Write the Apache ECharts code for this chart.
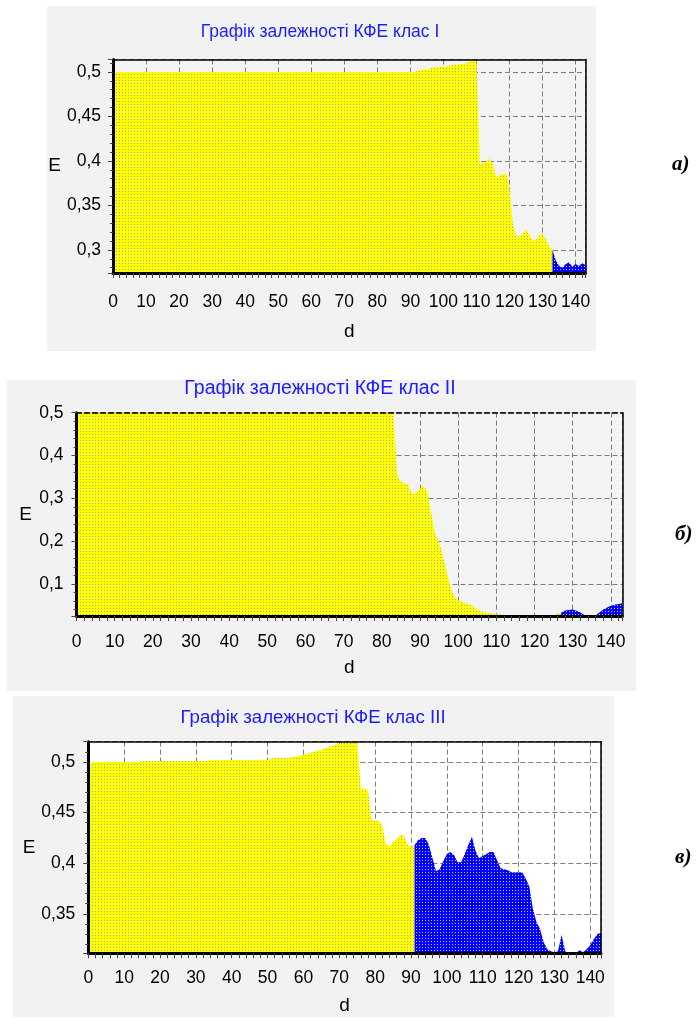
<!DOCTYPE html>
<html><head><meta charset="utf-8">
<script src="https://cdn.jsdelivr.net/npm/echarts@6.0.0/dist/echarts.min.js"></script>
<style>html,body{margin:0;padding:0;background:#fff;}#chart{width:697px;height:1019px;}</style>
</head><body><div id="chart"></div>
<script>
// ---------------- data ----------------
const TITLES = ['Графік залежності КФЕ клас I', 'Графік залежності КФЕ клас II', 'Графік залежності КФЕ клас III'];
const PANEL_TAGS = ['а)', 'б)', 'в)'];
const X_NAME = 'd';
const Y_NAME = 'E';
const X_TICKS = [0, 10, 20, 30, 40, 50, 60, 70, 80, 90, 100, 110, 120, 130, 140];
const X_MAX = 143;
const Y_MIN = [0.274, 0.025, 0.311];
const Y_MAX = [0.514, 0.5, 0.52];
const Y_STEP = [0.05, 0.1, 0.05];
// E value at d = 0,1,2,...,143
const E_I = [
  0.5,0.5,0.5,0.5,0.5,0.5,0.5,0.5,0.5,0.5,
  0.5,0.5,0.5,0.5,0.5,0.5,0.5,0.5,0.5,0.5,
  0.5,0.5,0.5,0.5,0.5,0.5,0.5,0.5,0.5,0.5,
  0.5,0.5,0.5,0.5,0.5,0.5,0.5,0.5,0.5,0.5,
  0.5,0.5,0.5,0.5,0.5,0.5,0.5,0.5,0.5,0.5,
  0.5,0.5,0.5,0.5,0.5,0.5,0.5,0.5,0.5,0.5,
  0.5,0.5,0.5,0.5,0.5,0.5,0.5,0.5,0.5,0.5,
  0.5,0.5,0.5,0.5,0.5,0.5,0.5,0.5,0.5,0.5,
  0.5,0.5,0.5,0.5,0.5,0.5,0.5,0.5,0.5,0.5,
  0.5,0.5,0.501,0.502,0.503,0.503,0.504,0.505,0.505,0.505,
  0.506,0.506,0.507,0.508,0.508,0.509,0.509,0.51,0.512,0.513,
  0.513,0.396,0.398,0.399,0.403,0.395,0.381,0.384,0.385,0.386,
  0.37,0.33,0.316,0.315,0.318,0.323,0.317,0.31,0.311,0.316,
  0.319,0.312,0.304,0.3,0.288,0.282,0.28,0.284,0.286,0.281,
  0.284,0.282,0.285,0.283
];
const E_II = [
  0.5,0.5,0.5,0.5,0.5,0.5,0.5,0.5,0.5,0.5,
  0.5,0.5,0.5,0.5,0.5,0.5,0.5,0.5,0.5,0.5,
  0.5,0.5,0.5,0.5,0.5,0.5,0.5,0.5,0.5,0.5,
  0.5,0.5,0.5,0.5,0.5,0.5,0.5,0.5,0.5,0.5,
  0.5,0.5,0.5,0.5,0.5,0.5,0.5,0.5,0.5,0.5,
  0.5,0.5,0.5,0.5,0.5,0.5,0.5,0.5,0.5,0.5,
  0.5,0.5,0.5,0.5,0.5,0.5,0.5,0.5,0.5,0.5,
  0.5,0.5,0.5,0.5,0.5,0.5,0.5,0.5,0.5,0.5,
  0.5,0.5,0.5,0.5,0.355,0.338,0.336,0.33,0.308,0.315,
  0.322,0.33,0.312,0.262,0.215,0.196,0.165,0.128,0.092,0.07,
  0.062,0.058,0.055,0.052,0.046,0.04,0.036,0.034,0.032,0.031,
  0.03,0.029,0.027,0.026,0.025,0.025,0.025,0.025,0.025,0.025,
  0.025,0.025,0.025,0.025,0.025,0.026,0.03,0.033,0.038,0.039,
  0.04,0.037,0.033,0.028,0.025,0.025,0.026,0.033,0.04,0.045,
  0.049,0.051,0.053,0.055
];
const E_III = [
  0.5,0.5,0.5,0.5,0.5,0.5,0.5,0.5,0.5,0.5,
  0.5,0.5,0.5,0.5,0.5,0.501,0.501,0.501,0.501,0.501,
  0.501,0.501,0.501,0.501,0.501,0.501,0.501,0.501,0.501,0.501,
  0.501,0.501,0.501,0.501,0.502,0.502,0.502,0.502,0.502,0.502,
  0.502,0.502,0.502,0.502,0.502,0.502,0.502,0.502,0.502,0.502,
  0.502,0.504,0.504,0.504,0.504,0.504,0.504,0.505,0.505,0.506,
  0.507,0.508,0.509,0.51,0.511,0.512,0.513,0.515,0.516,0.517,
  0.518,0.52,0.52,0.52,0.52,0.52,0.473,0.474,0.472,0.443,
  0.442,0.442,0.437,0.418,0.417,0.421,0.424,0.428,0.427,0.418,
  0.416,0.418,0.423,0.425,0.425,0.418,0.405,0.392,0.394,0.402,
  0.409,0.411,0.408,0.401,0.401,0.409,0.418,0.426,0.412,0.405,
  0.407,0.409,0.411,0.411,0.403,0.395,0.394,0.393,0.391,0.391,
  0.391,0.391,0.385,0.377,0.355,0.342,0.335,0.322,0.315,0.313,
  0.312,0.313,0.329,0.313,0.311,0.311,0.311,0.314,0.312,0.315,
  0.319,0.325,0.33,0.331
];
const SERIES_VALUES = [E_I, E_II, E_III];
// d from which the curve is drawn blue
const BLUE_FROM = [133, 127, 91];

// ---------------- layout / style ----------------
const LAYOUT = [
  {bg:[47,6,549,345], grid:{left:113,top:59.5,width:472.5,height:213.5}, plotBg:'#f3f3f3',
   title:{x:320,y:34,size:17.5}, tag:{x:672,y:165}, lblOff:29, dGap:59, eGap:57, yMargin:12, topDash:false},
  {bg:[7,380,629,311], grid:{left:76.5,top:412.7,width:545.8,height:203.3}, plotBg:'#f3f3f3',
   title:{x:320,y:390,size:19.5}, tag:{x:675,y:535}, lblOff:26, dGap:52, eGap:51, yMargin:13, topDash:true},
  {bg:[13,696,601,321], grid:{left:88.3,top:741.7,width:512.7,height:211.6}, plotBg:'#ffffff',
   title:{x:313,y:720,size:18.7}, tag:{x:675,y:858}, lblOff:25, dGap:52, eGap:48, yMargin:13, topDash:false}
];
const FONT = 'Liberation Sans';
const LABEL_SIZE = 17.5;

function pattern(base, dot) {
  const c = document.createElement('canvas');
  c.width = 3; c.height = 3;
  const g = c.getContext('2d');
  g.fillStyle = base; g.fillRect(0, 0, 3, 3);
  g.fillStyle = dot; g.fillRect(2, 2, 1, 1);
  return {image: c, repeat: 'repeat'};
}
const YELLOW = pattern('#ffff00', '#a9a9a0');
const BLUE = pattern('#0000ff', '#c8c8e8');

function pairs(vals, from, to) {
  const out = [];
  for (let i = from; i <= to && i < vals.length; i++) out.push([i, vals[i]]);
  return out;
}

const grids = [], xAxes = [], yAxes = [], series = [], titles = [], graphics = [];
LAYOUT.forEach((L, i) => {
  grids.push(Object.assign({show:true, backgroundColor:L.plotBg, borderWidth:0}, L.grid));
  const splitStyle = {show:true, lineStyle:{color:'#7c7c7c', type:[5,3], width:1}};
  const hidden = {axisLine:{show:false}, axisTick:{show:false}, axisLabel:{show:false}};
  // grid lines (below the fill)
  xAxes.push(Object.assign({gridIndex:i, type:'value', min:0, max:X_MAX, interval:10, z:1, splitLine:splitStyle}, hidden));
  yAxes.push(Object.assign({gridIndex:i, type:'value', min:Y_MIN[i], max:Y_MAX[i], z:1, splitLine:splitStyle}, hidden));
  // visible axes (above the fill)
  xAxes.push({
    gridIndex:i, type:'value', min:0, max:X_MAX, interval:10, position:'bottom', z:10,
    axisLine:{show:true, onZero:false, lineStyle:{color:'#000', width:3}},
    axisTick:{show:true, length:5, lineStyle:{color:'#444'}},
    minorTick:{show:true, splitNumber:5, length:5, lineStyle:{color:'#444'}},
    axisLabel:{show:true, margin:L.lblOff, verticalAlign:'middle', color:'#000', fontFamily:FONT, fontSize:LABEL_SIZE,
      formatter: v => X_TICKS.includes(v) ? String(v) : ''},
    splitLine:{show:false},
    name:X_NAME, nameLocation:'middle', nameGap:L.dGap,
    nameTextStyle:{color:'#000', fontFamily:FONT, fontSize:19, align:'center', verticalAlign:'middle'}
  });
  xAxes.push({
    gridIndex:i, type:'value', min:0, max:X_MAX, position:'top', z:10,
    axisLine:{show:true, onZero:false, lineStyle:{color:'#000', width:1.5, type:L.topDash ? [5,3] : 'solid'}},
    axisTick:{show:false}, axisLabel:{show:false}, splitLine:{show:false}
  });
  yAxes.push({
    gridIndex:i, type:'value', min:Y_MIN[i], max:Y_MAX[i], position:'left', z:10,
    axisLine:{show:true, onZero:false, lineStyle:{color:'#000', width:3}},
    axisTick:{show:true, length:5, lineStyle:{color:'#444'}},
    minorTick:{show:true, splitNumber:5, length:3, lineStyle:{color:'#444'}},
    axisLabel:{show:true, margin:L.yMargin, color:'#000', fontFamily:FONT, fontSize:LABEL_SIZE,
      formatter: v => {
        const s = Y_STEP[i], k = Math.round(v / s);
        if (Math.abs(v - k * s) > 1e-6) return '';
        return String(Math.round(k * s * 100) / 100).replace('.', ',');
      }},
    splitLine:{show:false},
    name:Y_NAME, nameLocation:'middle', nameGap:L.eGap, nameRotate:0,
    nameTextStyle:{color:'#000', fontFamily:FONT, fontSize:19, align:'center', verticalAlign:'middle'}
  });
  yAxes.push({
    gridIndex:i, type:'value', min:Y_MIN[i], max:Y_MAX[i], position:'right', z:10,
    axisLine:{show:true, onZero:false, lineStyle:{color:'#000', width:1.5}},
    axisTick:{show:false}, axisLabel:{show:false}, splitLine:{show:false}
  });
  const vals = SERIES_VALUES[i];
  const common = {type:'line', xAxisIndex:3*i, yAxisIndex:3*i, symbol:'none', silent:true, z:2,
    lineStyle:{width:0, opacity:0}};
  series.push(Object.assign({}, common, {name:'yellow'+i, data:pairs(vals, 0, BLUE_FROM[i]),
    areaStyle:{color:YELLOW, opacity:1, origin:'start'}}));
  series.push(Object.assign({}, common, {name:'blue'+i, data:pairs(vals, BLUE_FROM[i], vals.length - 1),
    areaStyle:{color:BLUE, opacity:1, origin:'start'}}));
  titles.push({text:TITLES[i], left:L.title.x, top:L.title.y - L.title.size * 0.6, textAlign:'center', padding:0,
    textStyle:{color:'#1c1cff', fontFamily:FONT, fontSize:L.title.size, fontWeight:'normal'}});
  graphics.push({type:'rect', z:-100, shape:{x:L.bg[0], y:L.bg[1], width:L.bg[2], height:L.bg[3]},
    style:{fill:'#f2f2f2'}, silent:true});
  graphics.push({type:'text', z:100, x:L.tag.x, y:L.tag.y,
    style:{text:PANEL_TAGS[i], font:'italic bold 21px "Liberation Serif"', fill:'#000', textVerticalAlign:'middle'}});
});

const chart = echarts.init(document.getElementById('chart'), null, {renderer:'canvas'});
chart.setOption({
  animation:false,
  backgroundColor:'#ffffff',
  title:titles,
  grid:grids,
  xAxis:xAxes,
  yAxis:yAxes,
  series:series,
  graphic:{elements:graphics}
});
</script></body></html>
